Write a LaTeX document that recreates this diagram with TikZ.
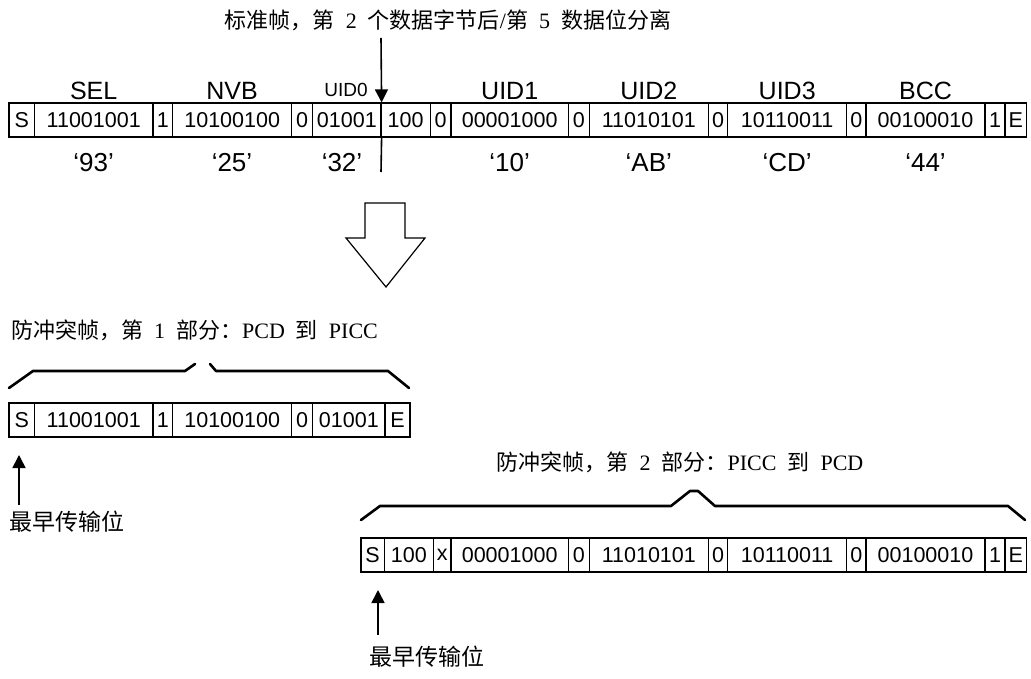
\documentclass[tikz,border=0pt]{standalone}
\usepackage{fontspec}
\setmainfont{Liberation Serif}
\newfontfamily\zh{Noto Sans CJK SC}
\newfontfamily\ar{Liberation Sans}
\usetikzlibrary{arrows.meta}
\newcommand{\hs}{\hspace{0.5em}}
\tikzset{
  cell/.style={draw, line width=1.2pt, inner sep=0pt, minimum height=34pt, font={\ar\fontsize{21.5}{24}\selectfont}},
  fieldlbl/.style={anchor=base, inner sep=0pt, font={\ar\fontsize{25}{28}\selectfont}},
  smalllbl/.style={anchor=base, inner sep=0pt, font={\ar\fontsize{19}{22}\selectfont}},
  hexlbl/.style={anchor=base, inner sep=0pt, font={\ar\fontsize{26}{29}\selectfont}},
  caption/.style={inner sep=0pt, font={\fontsize{22}{26}\selectfont}},
  note/.style={inner sep=0pt, font={\zh\fontsize{23}{27}\selectfont}},
  brace/.style={line width=2.6pt, line join=round, line cap=round},
  ptr/.style={line width=1.6pt, -{Triangle[width=13pt,length=13pt]}},
  blockarrow/.style={line width=1.2pt, line join=miter}
}
\begin{document}
\begin{tikzpicture}[x=1pt, y=-1pt]
\useasboundingbox (0,0) rectangle (1031,679);

% title
\node[caption] (title) at (448,20) {{\zh 标准帧，第}\hs 2\hs{\zh 个数据字节后}/{\zh 第}\hs 5\hs{\zh 数据位分离}};

% standard frame
\foreach \a/\b/\t [count=\i] in {9/34.5/S, 34.5/153/11001001, 153/172.7/1, 172.7/291.7/10100100, 291.7/312.7/0, 312.7/381/01001, 381/430.3/100, 430.3/451/0, 451/568.3/00001000, 568.3/589.3/0, 589.3/708.3/11010101, 708.3/727.7/0, 727.7/846.7/10110011, 846.7/866/0, 866/985/00100010, 985/1005/1, 1005/1026.7/E}
  \node[cell, minimum width={(\b-\a)*1pt}] (A\i) at ({(\a+\b)/2},120) {\t};

\node[fieldlbl] (sel) at (93.7,100) {SEL};
\node[fieldlbl] (nvb) at (232,100) {NVB};
\node[smalllbl] (uid0) at (346,97) {UID0};
\node[fieldlbl] (uid1) at (509.7,100) {UID1};
\node[fieldlbl] (uid2) at (648.8,100) {UID2};
\node[fieldlbl] (uid3) at (787.2,100) {UID3};
\node[fieldlbl] (bcc) at (925.5,100) {BCC};

\node[hexlbl] (h93) at (93.7,172) {‘93’};
\node[hexlbl] (h25) at (232,172) {‘25’};
\node[hexlbl] (h32) at (342,172) {‘32’};
\node[hexlbl] (h10) at (509.7,172) {‘10’};
\node[hexlbl] (hAB) at (648.8,172) {‘AB’};
\node[hexlbl] (hCD) at (787.2,172) {‘CD’};
\node[hexlbl] (h44) at (925.5,172) {‘44’};

% split marker
\coordinate (splittop) at (381,38);
\coordinate (splitbot) at (381,172);
\draw[ptr] (splittop) -- (A6.north east);
\draw[line width=1.6pt] (A6.south east) -- (splitbot);

% block arrow
\draw[blockarrow] (365,203) -- (405,203) -- (405,238) -- (425,238) -- (386,287) -- (346,238) -- (365,238) -- cycle;

% part 1
\node[caption, anchor=west] (cap1) at (11,330) {{\zh 防冲突帧，第}\hs 1\hs{\zh 部分：}PCD\hs{\zh 到}\hs PICC};
\draw[brace] (9,388) -- (33,371) -- (185,371) -- (195,364);
\draw[brace] (210,364) -- (216,371) -- (388,371) -- (409,388);

\foreach \a/\b/\t [count=\i] in {9/34.5/S, 34.5/153/11001001, 153/172.7/1, 172.7/291.7/10100100, 291.7/312.7/0, 312.7/385/01001, 385/410/E}
  \node[cell, minimum width={(\b-\a)*1pt}] (B\i) at ({(\a+\b)/2},420) {\t};

\coordinate (p1tail) at (19,505);
\coordinate (p1tip) at (19,455);
\draw[ptr] (p1tail) -- (p1tip);
\node[note, anchor=west] (first1) at (9,522) {最早传输位};

% part 2
\node[caption] (cap2) at (680,462) {{\zh 防冲突帧，第}\hs 2\hs{\zh 部分：}PICC\hs{\zh 到}\hs PCD};
\draw[brace] (361,520) -- (380,506) -- (671,506) -- (690,491) -- (698,491) -- (715,506) -- (1008,506) -- (1025,520);

\foreach \a/\b/\t [count=\i] in {361/384.3/S, 384.3/433.3/100, 433.3/451/x, 451/568.3/00001000, 568.3/589.3/0, 589.3/708.3/11010101, 708.3/727.7/0, 727.7/846.7/10110011, 846.7/866/0, 866/985/00100010, 985/1005/1, 1005/1026.7/E}
  \node[cell, minimum width={(\b-\a)*1pt}] (C\i) at ({(\a+\b)/2},555) {\t};

\coordinate (p2tail) at (378,635);
\coordinate (p2tip) at (378,590);
\draw[ptr] (p2tail) -- (p2tip);
\node[note, anchor=west] (first2) at (369,657) {最早传输位};
\end{tikzpicture}
\end{document}
